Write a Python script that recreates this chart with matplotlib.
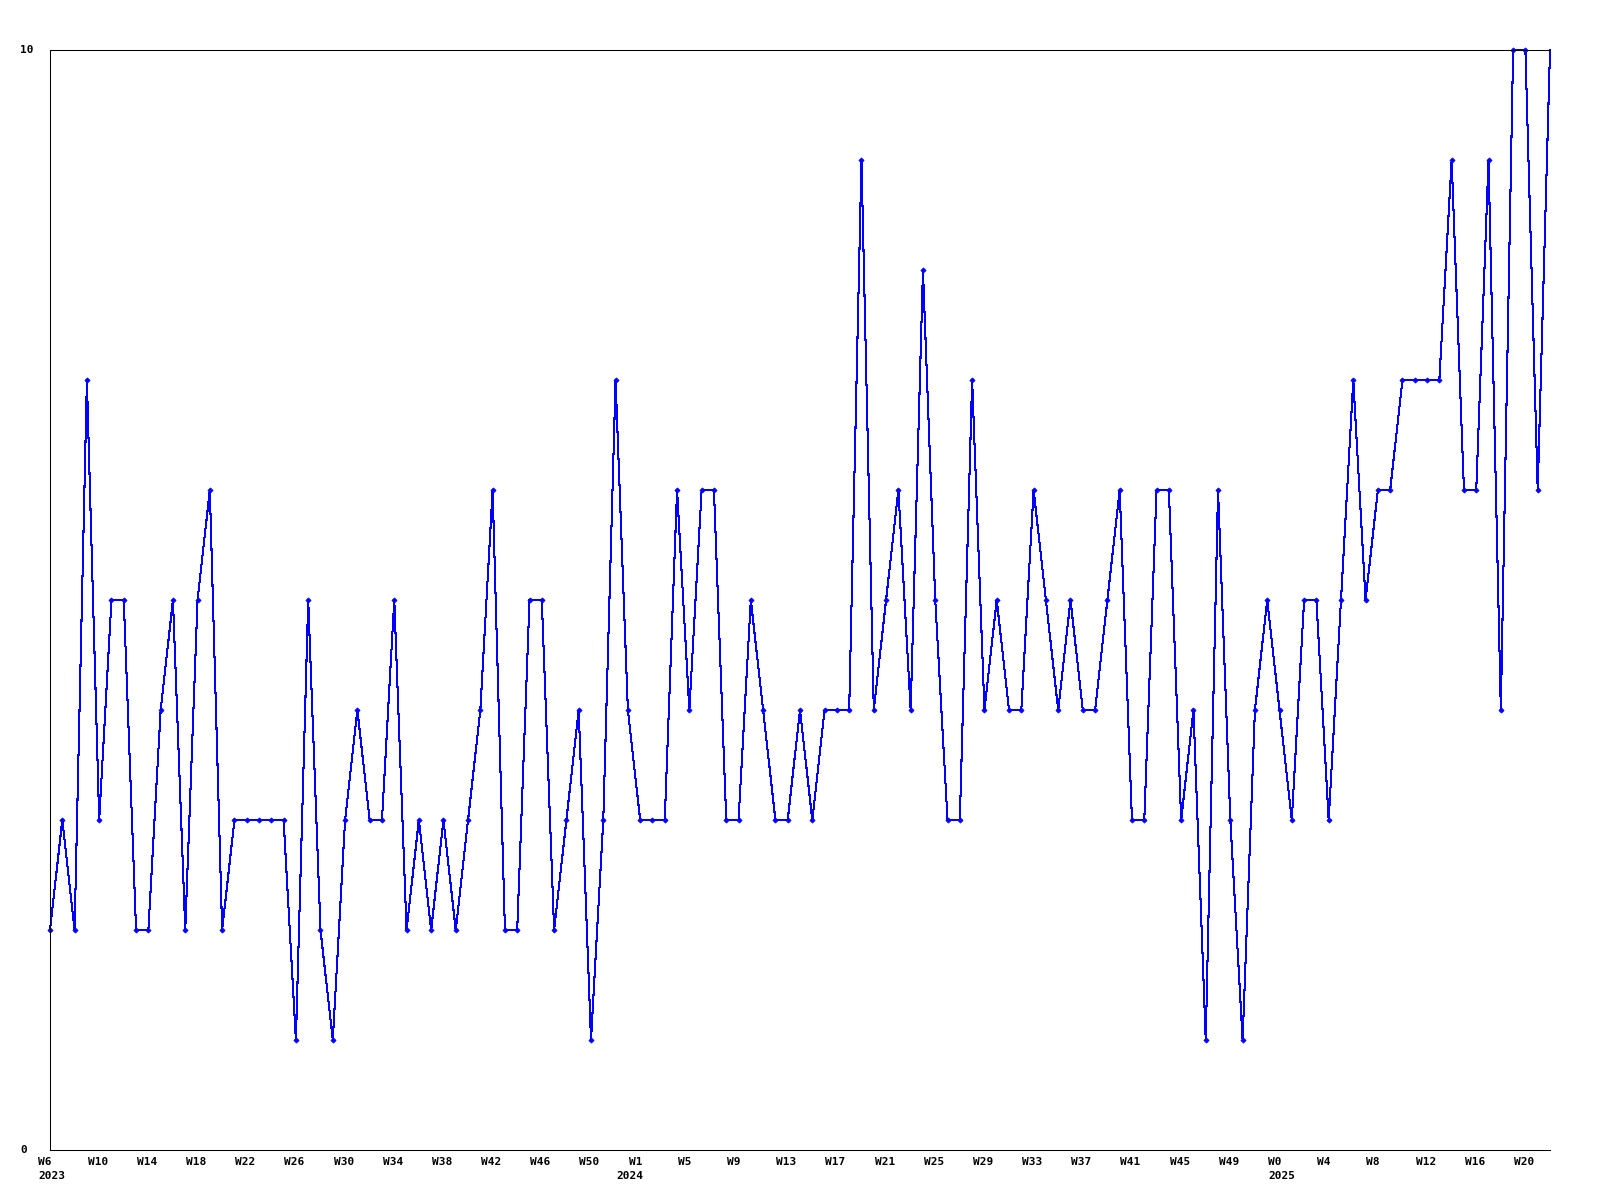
import matplotlib
matplotlib.use("Agg")
import matplotlib.pyplot as plt

# weekly counts, 2023-W6 .. 2025-W22
values = [
    2, 3, 2, 7, 3, 5, 5, 2, 2, 4, 5, 2, 5, 6, 2, 3, 3, 3, 3, 3,
    1, 5, 2, 1, 3, 4, 3, 3, 5, 2, 3, 2, 3, 2, 3, 4, 6, 2, 2, 5,
    5, 2, 3, 4, 1, 3, 7, 4, 3, 3, 3, 6, 4, 6, 6, 3, 3, 5, 4, 3,
    3, 4, 3, 4, 4, 4, 9, 4, 5, 6, 4, 8, 5, 3, 3, 7, 4, 5, 4, 4,
    6, 5, 4, 5, 4, 4, 5, 6, 3, 3, 6, 6, 3, 4, 1, 6, 3, 1, 4, 5,
    4, 3, 5, 5, 3, 5, 7, 5, 6, 6, 7, 7, 7, 7, 9, 6, 6, 9, 4, 10,
    10, 6, 10,
]
# (year, first week, last week) of each block of weekly points
year_spans = [(2023, 6, 52), (2024, 0, 52), (2025, 0, 22)]
y_ticks = [0, 10]

years, weeks = [], []
for yr, w0, w1 in year_spans:
    for w in range(w0, w1 + 1):
        years.append(yr)
        weeks.append(w)
x = list(range(len(values)))

DPI = 100
fig = plt.figure(figsize=(16, 12), dpi=DPI, facecolor="white")
ax = fig.add_axes([50 / 1600, 50 / 1200, 1500 / 1600, 1100 / 1200])

# last (current, partial) week has no marker in the original
ax.plot(x, values, color="#0000ff", lw=0.75, antialiased=False,
        marker="D", markersize=2.6, markeredgewidth=0.6,
        markevery=list(range(len(values) - 1)), clip_on=False)

ax.set_xlim(0, len(values) - 1)
ax.set_ylim(y_ticks[0], y_ticks[-1])
ax.set_xticks([])
ax.set_yticks([])
for s in ("left", "top", "bottom"):
    ax.spines[s].set_linewidth(0.75)
    ax.spines[s].set_color("black")
ax.spines["right"].set_visible(False)

font = dict(family="DejaVu Sans Mono", fontweight="bold", fontsize=8, color="black")

# week labels every 4th point, year label at the first point of each year
for i in range(0, len(values), 4):
    ax.annotate(f"W{weeks[i]}", xy=(i, 0), xycoords=("data", "axes fraction"),
                xytext=(-11.5, -12), textcoords="offset pixels",
                ha="left", va="center", **font)
for i in range(len(values)):
    if i == 0 or years[i] != years[i - 1]:
        ax.annotate(str(years[i]), xy=(i, 0), xycoords=("data", "axes fraction"),
                    xytext=(-11.5, -26), textcoords="offset pixels",
                    ha="left", va="center", **font)

for v in y_ticks:
    ax.annotate(str(v), xy=(0, v), xycoords=("axes fraction", "data"),
                xytext=(-30, 0), textcoords="offset pixels",
                ha="left", va="center", **font)

fig.savefig("out.png", dpi=DPI, facecolor="white")
